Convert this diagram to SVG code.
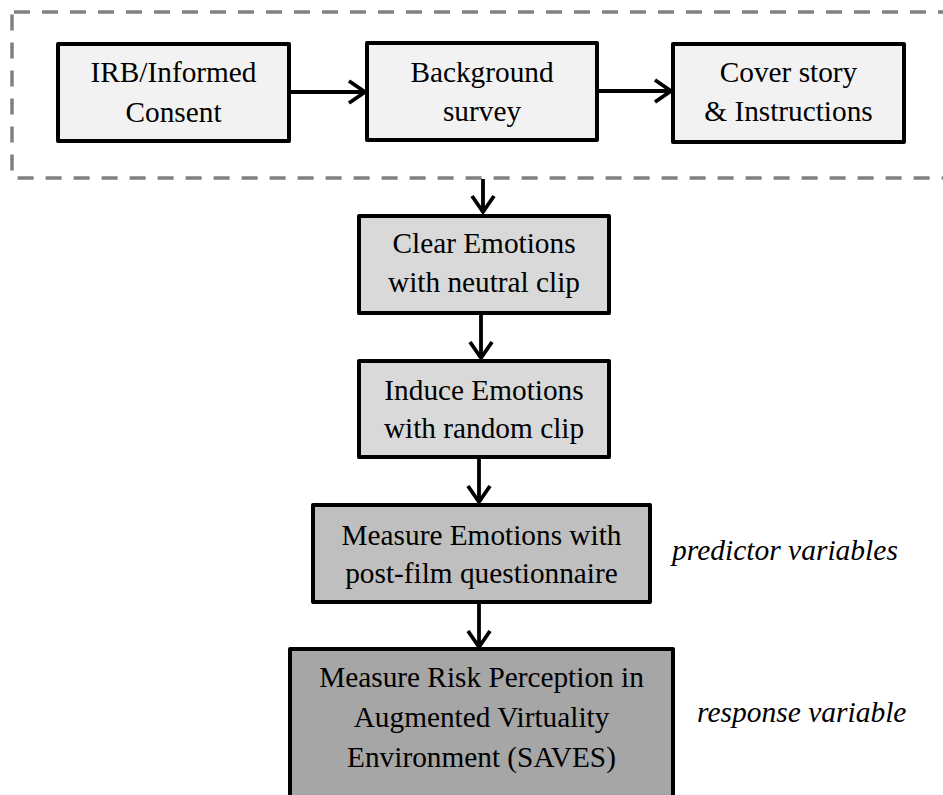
<svg xmlns="http://www.w3.org/2000/svg" width="943" height="795" viewBox="0 0 943 795">
<style>
.box{stroke:#000;stroke-width:4;stroke-linejoin:round}
.t{font-family:"Liberation Serif","Times New Roman",serif;font-size:29.3px;fill:#000;text-anchor:middle}
.i{font-family:"Liberation Serif","Times New Roman",serif;font-size:29.5px;font-style:italic;fill:#000}
.c{stroke:#000;stroke-width:3.8;fill:none;stroke-linejoin:miter}
</style>
<rect width="943" height="795" fill="#fff"/>
<rect id="group" x="12" y="12" width="980" height="166" rx="2" fill="none" stroke="#808080" stroke-width="3.5" stroke-dasharray="16 12"/>
<g id="n1"><rect class="box" x="58" y="44" width="231" height="97" fill="#f2f2f2"/><text class="t" x="173.5" y="82">IRB/Informed</text><text class="t" x="173.5" y="122">Consent</text></g>
<g id="n2"><rect class="box" x="367" y="43" width="230" height="97" fill="#f2f2f2"/><text class="t" x="482" y="82">Background</text><text class="t" x="482" y="121">survey</text></g>
<g id="n3"><rect class="box" x="673" y="44" width="231" height="98" fill="#f2f2f2"/><text class="t" x="788.5" y="82">Cover story</text><text class="t" x="788.5" y="121">&amp; Instructions</text></g>
<g id="n4"><rect class="box" x="359" y="216" width="250" height="97" fill="#d9d9d9"/><text class="t" x="484" y="253">Clear Emotions</text><text class="t" x="484" y="292">with neutral clip</text></g>
<g id="n5"><rect class="box" x="359" y="361" width="250" height="96" fill="#d9d9d9"/><text class="t" x="484" y="400">Induce Emotions</text><text class="t" x="484" y="438">with random clip</text></g>
<g id="n6"><rect class="box" x="313" y="505" width="337" height="97" fill="#bfbfbf"/><text class="t" x="481.5" y="545">Measure Emotions with</text><text class="t" x="481.5" y="583">post-film questionnaire</text></g>
<g id="n7"><rect class="box" x="290" y="649" width="383" height="160" fill="#a6a6a6"/><text class="t" x="481.5" y="687">Measure Risk Perception in</text><text class="t" x="481.5" y="727">Augmented Virtuality</text><text class="t" x="481.5" y="767">Environment (SAVES)</text></g>
<g id="l1"><text class="i" x="672" y="560">predictor variables</text></g>
<g id="l2"><text class="i" x="697" y="722">response variable</text></g>
<g id="connectors">
<path class="c" d="M289 92H364M349 81L365 92L349 103"/>
<path class="c" d="M597 91H670M655 80L671 91L655 102"/>
<path class="c" d="M483 179V211M472 196L483 212L494 196"/>
<path class="c" d="M481 313V357M470 342L481 358L492 342"/>
<path class="c" d="M479 457V501M468 486L479 502L490 486"/>
<path class="c" d="M479 602V646M468 631L479 647L490 631"/>
</g>
</svg>
